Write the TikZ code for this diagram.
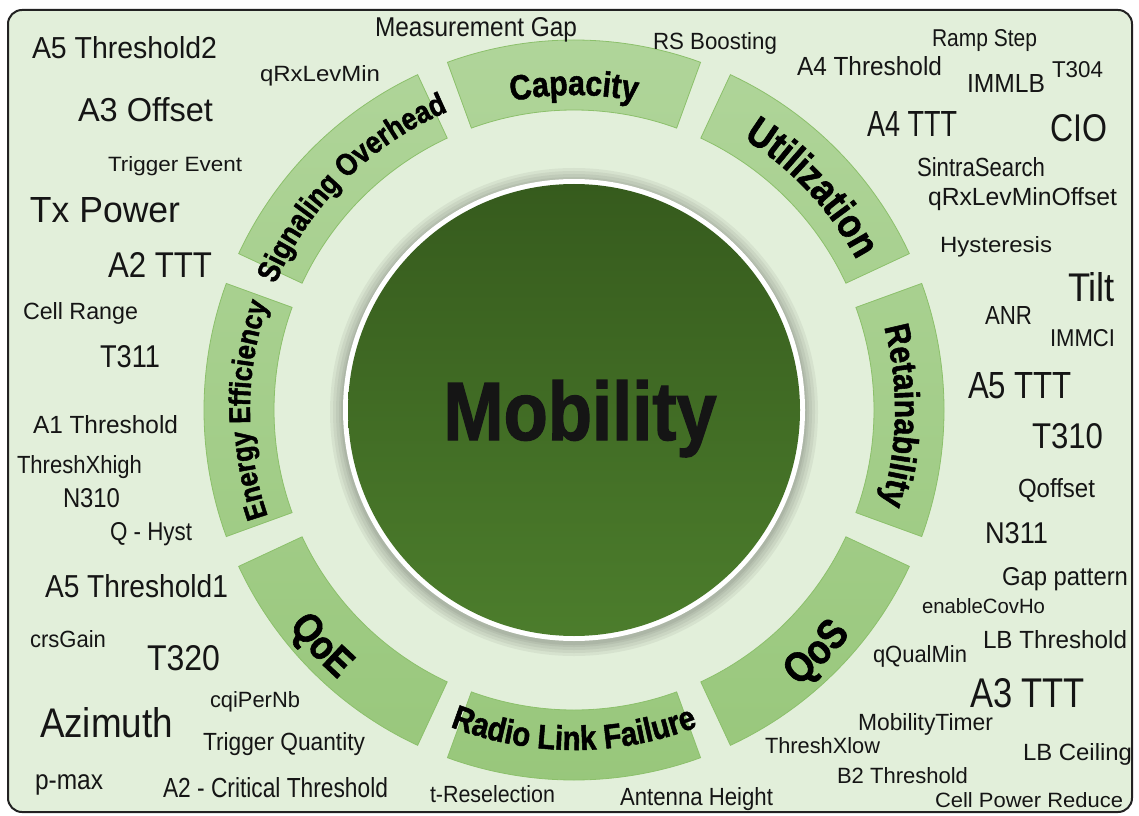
\documentclass[tikz,border=0pt]{standalone}
\usepackage{fontspec}
\setmainfont{Liberation Sans}
\newfontfamily\segfont[FakeStretch=0.86, BoldFeatures={FakeBold=1.5}]{Liberation Sans}
\usepackage{graphicx}
\usetikzlibrary{decorations.text}
\definecolor{bgc}{HTML}{E2EFDA}
\definecolor{segtop}{HTML}{B0D59A}
\definecolor{segbot}{HTML}{98C77B}
\definecolor{segline}{HTML}{8CC06B}
\definecolor{disktop}{HTML}{365B1D}
\definecolor{diskbot}{HTML}{4C7D2C}
\definecolor{txt}{HTML}{151515}
\definecolor{framec}{HTML}{222222}
\tikzset{
  wc/.style={anchor=base west, inner sep=0pt, outer sep=0pt, text=txt},
  segborder/.style={draw=segline, line width=0.8pt},
}
\newcommand\wc[6]{\node[wc] (#1) at (#2,815-#3) {\resizebox{#4pt}{#5pt}{\vphantom{A}#6}};}
\newcommand\seg[1]{(#1+20:300) arc[start angle=#1+20, end angle=#1-20, radius=300] -- (#1-20:370) arc[start angle=#1-20, end angle=#1+20, radius=370] -- cycle}
% clockwise text (tops outward): angle, baseline radius, size, text
\newcommand\cwtext[4]{\path[decorate, decoration={text along path, text align=center, text={|\segfont\bfseries\fontsize{#3}{#3}\selectfont|#4}}] (#1+22:#2) arc[start angle=#1+22, end angle=#1-22, radius=#2];}
% counter-clockwise text (tops inward)
\newcommand\ccwtext[4]{\path[decorate, decoration={text along path, text align=center, text={|\segfont\bfseries\fontsize{#3}{#3}\selectfont|#4}}] (#1-22:#2) arc[start angle=#1-22, end angle=#1+22, radius=#2];}
\begin{document}
\begin{tikzpicture}[x=1pt,y=1pt]
\useasboundingbox (0,0) rectangle (1139,815);
\fill[white] (0,0) rectangle (1139,815);
\draw[fill=bgc, draw=framec, line width=2pt, rounded corners=14pt] (8,3) rectangle (1132,805);

\begin{scope}[shift={(574,405)}]
  % ring segments
  \shade[top color=segtop, bottom color=segbot] \seg{90} \seg{45} \seg{0} \seg{-45} \seg{-90} \seg{-135} \seg{180} \seg{135};
  \path[segborder] \seg{90} \seg{45} \seg{0} \seg{-45} \seg{-90} \seg{-135} \seg{180} \seg{135};
  % segment labels
  \cwtext{90}{315}{35}{Capacity}
  \cwtext{43}{320}{41}{Utilization}
  \cwtext{-1}{321}{35}{Retainability}
  \cwtext{180}{324}{30}{Energy Efficiency}
  \cwtext{135}{324}{31}{Signaling Overhead}
  \ccwtext{-90}{340}{34}{Radio Link Failure}
  \ccwtext{-45}{356}{42}{QoS}
  \ccwtext{-137}{358}{41}{QoE}
  % central disk with shadow
  \foreach \r in {244,241,238,235,233}{\fill[black, opacity=0.05] (0,-2) circle[radius=\r];}
  \fill[white] (0,0) circle[radius=231];
  \shade[top color=disktop, bottom color=diskbot] (0,0) circle[radius=226];
\end{scope}
\node[anchor=base, inner sep=0pt, text=txt] (mob) at (580,815-440) {\resizebox{273pt}{60pt}{\segfont\bfseries\vphantom{A}Mobility}};

% word cloud labels
\wc{a5thr2}{32}{59}{185}{22}{A5 Threshold2}
\wc{qrx}{260}{82}{120}{16}{qRxLevMin}
\wc{a3off}{78}{122}{135}{24}{A3 Offset}
\wc{trigev}{108}{172}{134}{15}{Trigger Event}
\wc{txp}{30}{223}{150}{25}{Tx Power}
\wc{a2ttt}{108}{278}{104}{25}{A2 TTT}
\wc{cellr}{23}{320}{115}{17}{Cell Range}
\wc{t311}{100}{367}{60}{22}{T311}
\wc{a1thr}{33}{433}{145}{18}{A1 Threshold}
\wc{txh}{17}{473}{125}{18}{ThreshXhigh}
\wc{n310}{63}{507}{57}{19}{N310}
\wc{qhyst}{110}{540}{82}{18}{Q - Hyst}
\wc{a5thr1}{45}{597}{183}{23}{A5 Threshold1}
\wc{crs}{30}{647}{76}{17}{crsGain}
\wc{t320}{147}{670}{73}{25}{T320}
\wc{cqi}{210}{707}{90}{16}{cqiPerNb}
\wc{azi}{40}{737}{133}{30}{Azimuth}
\wc{trigq}{203}{750}{162}{18}{Trigger Quantity}
\wc{pmax}{35}{789}{68}{19}{p-max}
\wc{a2crit}{163}{797}{225}{20}{A2 - Critical Threshold}
\wc{tres}{430}{802}{125}{17}{t-Reselection}
\wc{anth}{620}{805}{153}{18}{Antenna Height}
\wc{gappat}{1002}{585}{126}{18}{Gap pattern}
\wc{encov}{922}{613}{123}{15}{enableCovHo}
\wc{lbthr}{983}{648}{144}{18}{LB Threshold}
\wc{qqual}{873}{662}{94}{17}{qQualMin}
\wc{a3ttt}{970}{707}{115}{29}{A3 TTT}
\wc{mobt}{858}{730}{135}{17}{MobilityTimer}
\wc{txl}{765}{753}{115}{16}{ThreshXlow}
\wc{lbceil}{1023}{760}{109}{17}{LB Ceiling}
\wc{b2thr}{837}{783}{131}{16}{B2 Threshold}
\wc{cpr}{935}{807}{188}{15}{Cell Power Reduce}
\wc{tilt}{1068}{302}{47}{29}{Tilt}
\wc{anr}{985}{325}{47}{18}{ANR}
\wc{immci}{1050}{347}{65}{17}{IMMCI}
\wc{a5ttt}{968}{398}{104}{26}{A5 TTT}
\wc{t310}{1032}{448}{71}{25}{T310}
\wc{qoff}{1018}{497}{77}{19}{Qoffset}
\wc{n311}{985}{543}{63}{21}{N311}
\wc{ramp}{932}{47}{105}{17}{Ramp Step}
\wc{a4thr}{797}{76}{145}{19}{A4 Threshold}
\wc{immlb}{967}{93}{78}{18}{IMMLB}
\wc{t304}{1052}{78}{51}{16}{T304}
\wc{a4ttt}{867}{137}{90}{25}{A4 TTT}
\wc{cio}{1050}{142}{57}{27}{CIO}
\wc{sintra}{917}{177}{128}{19}{SintraSearch}
\wc{qrxoff}{928}{206}{189}{18}{qRxLevMinOffset}
\wc{hyst}{940}{253}{112}{16}{Hysteresis}
\wc{measgap}{375}{37}{202}{19}{Measurement Gap}
\wc{rsb}{653}{50}{124}{17}{RS Boosting}
\end{tikzpicture}
\end{document}
